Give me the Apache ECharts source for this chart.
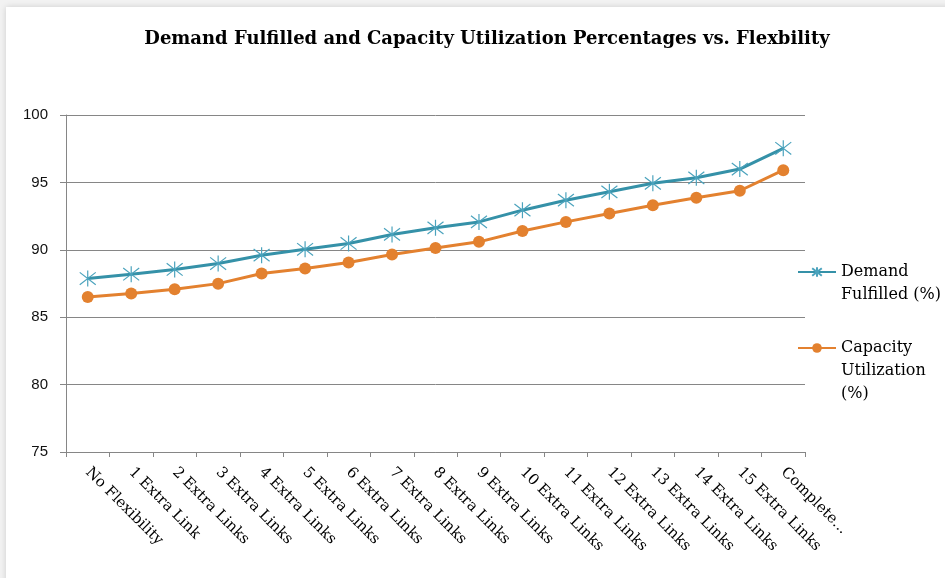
<!DOCTYPE html>
<html>
<head>
<meta charset="utf-8">
<script src="https://cdn.jsdelivr.net/npm/echarts@6/dist/echarts.min.js"></script>
<style>
html,body{margin:0;padding:0;background:#f2f2f2;}
#chart{width:945px;height:578px;}
</style>
</head>
<body>
<div id="chart"></div>
<script>
const categories = ["No Flexibility","1 Extra Link","2 Extra Links","3 Extra Links","4 Extra Links","5 Extra Links","6 Extra Links","7 Extra Links","8 Extra Links","9 Extra Links","10 Extra Links","11 Extra Links","12 Extra Links","13 Extra Links","14 Extra Links","15 Extra Links","Complete..."];
const demandFulfilled = [87.87, 88.19, 88.54, 88.98, 89.6, 90.04, 90.47, 91.14, 91.63, 92.07, 92.94, 93.68, 94.3, 94.93, 95.34, 95.99, 97.53];
const capacityUtilization = [86.5, 86.75, 87.07, 87.49, 88.24, 88.61, 89.06, 89.65, 90.14, 90.59, 91.4, 92.07, 92.69, 93.31, 93.86, 94.38, 95.91];
const yTicks = {min: 75, max: 100, interval: 5};
const seriesNames = ["Demand Fulfilled (%)", "Capacity Utilization (%)"];
const legendLines = {"Demand Fulfilled (%)": ["Demand", "Fulfilled (%)"], "Capacity Utilization (%)": ["Capacity", "Utilization", "(%)"]};

const serif = "'DejaVu Serif', 'Liberation Serif', serif";
const sans = "'Liberation Sans', Arial, sans-serif";
const chart = echarts.init(document.getElementById('chart'), null, {renderer: 'canvas'});
const asterisk = 'path://M0,0 L10,10 M10,0 L0,10 M5,-1.5 L5,11.5';
// pad with blank lines above so the first text line sits level with the legend icon
const legendText = n => {
  const lines = legendLines[n];
  return Array(lines.length - 1).fill('\u00a0').concat(lines).join('\n');
};
const legendBase = {
  orient: 'vertical', left: 797, padding: 0,
  itemWidth: 38, itemHeight: 12, itemGap: 0,
  formatter: legendText,
  textStyle: {fontFamily: serif, fontSize: 16, color: '#000', lineHeight: 23}
};
chart.setOption({
  animation: false,
  backgroundColor: '#f2f2f2',
  graphic: [{
    type: 'rect', left: 6, top: 7, z: -10,
    shape: {width: 945, height: 578},
    style: {fill: '#ffffff', shadowBlur: 6, shadowColor: 'rgba(0,0,0,0.15)'}
  }],
  title: {
    text: 'Demand Fulfilled and Capacity Utilization Percentages vs. Flexbility',
    left: 482, top: 25, textAlign: 'center',
    textStyle: {fontFamily: serif, fontWeight: 'bold', fontSize: 18, color: '#000'}
  },
  grid: {left: 66, right: 140, top: 115, bottom: 126, containLabel: false},
  legend: [
    Object.assign({}, legendBase, {top: 237.5, data: [seriesNames[0]]}),
    Object.assign({}, legendBase, {top: 290.5, data: [seriesNames[1]]})
  ],
  xAxis: {
    type: 'category', data: categories, boundaryGap: true,
    axisLine: {lineStyle: {color: '#868686', width: 1}},
    axisTick: {show: true, alignWithLabel: false, length: 5, lineStyle: {color: '#868686'}},
    axisLabel: {rotate: -45, interval: 0, margin: 18, fontFamily: serif, fontSize: 15, color: '#000'}
  },
  yAxis: {
    type: 'value', min: yTicks.min, max: yTicks.max, interval: yTicks.interval,
    axisLine: {show: true, lineStyle: {color: '#868686', width: 1}},
    axisTick: {show: true, length: 6, lineStyle: {color: '#868686'}},
    splitLine: {lineStyle: {color: '#868686', width: 1}},
    axisLabel: {margin: 18, fontFamily: sans, fontSize: 15, color: '#111'}
  },
  series: [{
    name: seriesNames[0], type: 'line', data: demandFulfilled,
    lineStyle: {color: '#3591A8', width: 3},
    symbol: asterisk, symbolSize: 16,
    itemStyle: {color: 'rgba(0,0,0,0)', borderColor: '#4BA3BD', borderWidth: 1.2},
    emphasis: {disabled: true}
  }, {
    name: seriesNames[1], type: 'line', data: capacityUtilization,
    lineStyle: {color: '#E3812F', width: 3},
    symbol: 'circle', symbolSize: 12,
    itemStyle: {color: '#E3812F'},
    emphasis: {disabled: true}
  }]
});
</script>
</body>
</html>
